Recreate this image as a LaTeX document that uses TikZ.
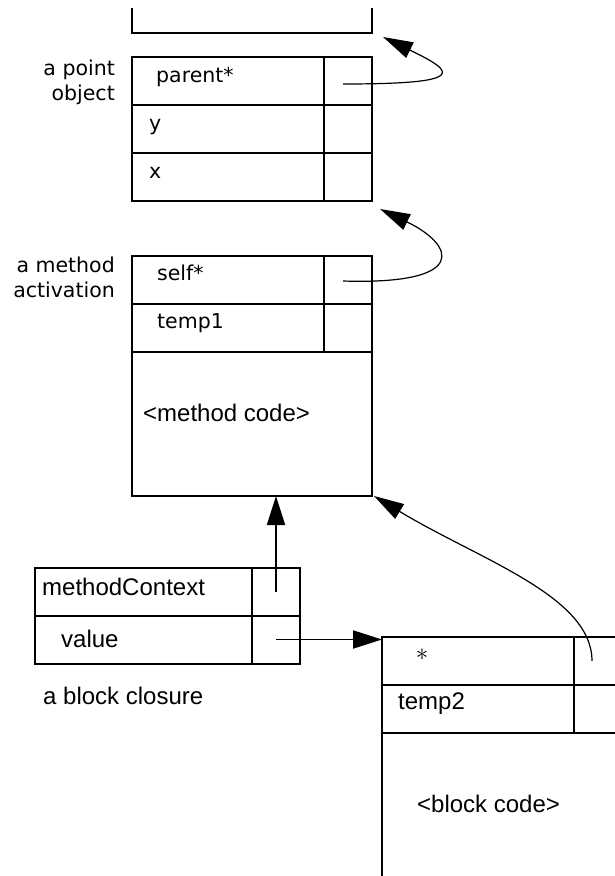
\documentclass[tikz,border=0pt]{standalone}
\usepackage{fontspec}
\newfontfamily\genevafont{DejaVu Sans}
\newfontfamily\helvfont{Liberation Sans}
\usetikzlibrary{positioning,arrows.meta}

\begin{document}
\begin{tikzpicture}[
    x=1pt, y=-1pt,
    field/.style={draw, line width=2pt, outer sep=0pt, inner sep=0pt, minimum width=192pt, minimum height=48pt},
    slot/.style={draw, line width=2pt, outer sep=0pt, inner sep=0pt, minimum width=48pt, minimum height=48pt},
    codearea/.style={draw, line width=2pt, outer sep=0pt, inner sep=0pt, minimum width=240pt},
    gtext/.style={font=\genevafont\fontsize{20.5}{25}\selectfont, inner sep=0pt},
    htext/.style={font=\helvfont\fontsize{24}{27}\selectfont, inner sep=0pt},
    ptr/.style={-{Triangle[length=29pt,width=18pt]}, line width=1.9pt},
    curvedptr/.style={-{Triangle[length=30pt,width=17pt]}, line width=1.2pt},
]

\useasboundingbox (0,0) rectangle (615,876);
\clip (0,0) rectangle (615,876);

% ================== previous object (cut off) ==================
\node[minimum width=240pt, minimum height=25pt, inner sep=0pt, outer sep=0pt] (prev) at (252,20.5) {};
\draw[line width=2pt] (prev.north west) -- (prev.south west) -- (prev.south east) -- (prev.north east);

% ================== point object ==================
\node[field] (pParent) at (228,81) {};
\node[slot, right=0pt of pParent] (pParentSlot) {};
\node[field, below=0pt of pParent] (pY) {};
\node[slot, right=0pt of pY] (pYSlot) {};
\node[field, below=0pt of pY] (pX) {};
\node[slot, right=0pt of pX] (pXSlot) {};

\node[gtext, anchor=base west] (tParent) at ([xshift=24pt,yshift=-25pt]pParent.north west) {parent*};
\node[gtext, anchor=base west] (tY) at ([xshift=17pt,yshift=-25pt]pY.north west) {y};
\node[gtext, anchor=base west] (tX) at ([xshift=17pt,yshift=-25pt]pX.north west) {x};
\node[gtext, align=right, anchor=north east] (pointLabel) at ([xshift=-17pt,yshift=-3pt]pParent.north west) {a point\\object};

% ================== method activation ==================
\node[field] (mSelf) at (228,280) {};
\node[slot, right=0pt of mSelf] (mSelfSlot) {};
\node[field, below=0pt of mSelf] (mTemp) {};
\node[slot, right=0pt of mTemp] (mTempSlot) {};
\node[codearea, minimum height=144pt, below right=0pt and 0pt of mTemp.south west] (mCode) {};

\node[gtext, anchor=base west] (tSelf) at ([xshift=25pt,yshift=-24pt]mSelf.north west) {self*};
\node[gtext, anchor=base west] (tTemp1) at ([xshift=25pt,yshift=-24pt]mTemp.north west) {temp1};
\node[htext, anchor=base west] (tMethodCode) at ([xshift=11pt,yshift=-69pt]mCode.north west) {<method code>};
\node[gtext, align=right, anchor=north east] (methodLabel) at ([xshift=-17pt,yshift=-1pt]mSelf.north west) {a method\\activation};

% ================== block closure ==================
\node[field, minimum width=217pt] (bcContext) at (143.5,591.5) {};
\node[slot, right=0pt of bcContext] (bcContextSlot) {};
\node[field, minimum width=217pt, below=0pt of bcContext] (bcValue) {};
\node[slot, right=0pt of bcValue] (bcValueSlot) {};

\node[htext, anchor=base west] (tContext) at ([xshift=7pt,yshift=-27.5pt]bcContext.north west) {methodContext};
\node[htext, anchor=base west] (tValue) at ([xshift=26pt,yshift=-31.5pt]bcValue.north west) {value};
\node[htext, anchor=base west] (closureLabel) at ([xshift=8pt,yshift=-40.5pt]bcValue.south west) {a block closure};

% ================== block activation ==================
\node[field] (bStar) at (478,661) {};
\node[slot, right=0pt of bStar] (bStarSlot) {};
\node[field, below=0pt of bStar] (bTemp) {};
\node[slot, right=0pt of bTemp] (bTempSlot) {};
\node[codearea, minimum height=240pt, below right=0pt and 0pt of bTemp.south west] (bCode) {};

\node[inner sep=0pt, font=\fontsize{26}{26}\selectfont] (tStar) at ([xshift=40pt,yshift=6pt]bStar.west) {$\ast$};
\node[htext, anchor=base west] (tTemp2) at ([xshift=16pt,yshift=-24pt]bTemp.north west) {temp2};
\node[htext, anchor=base west] (tBlockCode) at ([xshift=35pt,yshift=-79pt]bCode.north west) {<block code>};

% ================== pointers ==================
\draw[curvedptr] ([xshift=-5pt,yshift=-3pt]pParentSlot.center) .. controls +(127,0) and +(72,35) .. ([xshift=11pt,yshift=-4pt]prev.south east);
\draw[curvedptr] ([xshift=-5pt,yshift=-1pt]mSelfSlot.center) .. controls +(127,4) and +(75,36) .. ([xshift=8pt,yshift=-8pt]pXSlot.south east);
\draw[ptr] (bcContextSlot.center) -- (bcContextSlot.center |- mCode.south);
\draw[ptr] (bcValueSlot.center) -- (bcValueSlot.center -| bStar.west);
\draw[curvedptr] ([xshift=-6pt]bStarSlot.center) .. controls +(0,-65) and +(106,64) .. ([xshift=2pt]mCode.south east);

\end{tikzpicture}
\end{document}
